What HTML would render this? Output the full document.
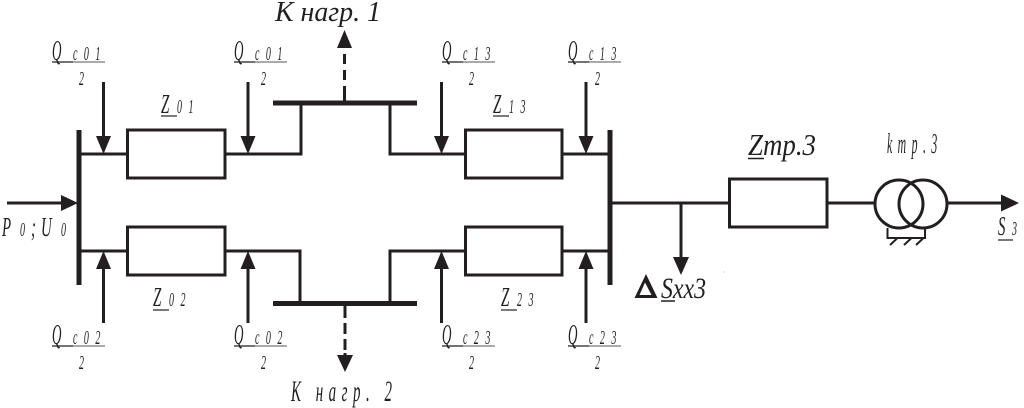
<!DOCTYPE html>
<html><head><meta charset="utf-8">
<style>
html,body{margin:0;padding:0;background:#fff;width:1024px;height:408px;overflow:hidden}
svg{display:block}
text{font-family:"Liberation Serif","DejaVu Serif",serif;font-style:italic;fill:#231f20}
.q{font-size:29px}.s{font-size:20px;letter-spacing:4px}.n{font-size:20px}
.z{font-size:27px}
.l{stroke:#231f20;stroke-width:3;fill:none}
.b{stroke:#231f20;stroke-width:5;fill:none}
.u{stroke:#231f20;stroke-width:1.2}
.g{stroke:#777;stroke-width:1.2}
.h{fill:#231f20;stroke:none}
</style></head><body>
<svg width="1024" height="408" viewBox="0 0 1024 408" xmlns="http://www.w3.org/2000/svg">
<rect width="1024" height="408" fill="#fff"/>
<!-- buses -->
<path class="b" d="M79 130V285M610 130V285M273 103H417M273 303.500H417"/>
<!-- top branch -->
<path class="l" d="M80 154H127M225 154H301V103M390 103V154H465M562 154H610"/>
<rect class="l" x="127.500" y="130" width="97.500" height="48"/>
<rect class="l" x="465.500" y="130" width="96.500" height="48"/>
<!-- bottom branch -->
<path class="l" d="M80 251H127M225 251H300V303M390 303V251H465M562 251H610"/>
<rect class="l" x="127.500" y="227" width="97.500" height="48"/>
<rect class="l" x="465.500" y="227" width="96.500" height="48"/>
<!-- right side -->
<path class="l" d="M610 203H729M827 203H875"/>
<rect class="l" x="729.500" y="179" width="97.500" height="48"/>
<circle class="l" cx="899" cy="204" r="24"/>
<circle class="l" cx="923" cy="204" r="24"/>
<path class="l" d="M947 203H1005"/>
<path class="h" d="M1019 203L1001 194.500V211.500Z"/>
<path d="M887.500 228V238H925V228M890 245L897 238.500M904 245L911 238.500M916 245L923 238.500" fill="none" stroke="#231f20" stroke-width="2"/>
<!-- input arrow -->
<path class="l" d="M7 203H70"/>
<path class="h" d="M78 203L61 195V211Z"/>
<!-- Q arrows top -->
<path class="l" d="M103.500 82V140M248 82V140M441.500 82V140M586 82V140"/>
<path class="h" d="M103.500 154L96 136H111ZM248 154L240.500 136H255.500ZM441.500 154L434 136H449ZM586 154L578.500 136H593.500Z"/>
<!-- Q arrows bottom -->
<path class="l" d="M103.500 323V265M248 323V265M441.500 323V265M586 323V265"/>
<path class="h" d="M103.500 251L96 269H111ZM248 251L240.500 269H255.500ZM441.500 251L434 269H449ZM586 251L578.500 269H593.500Z"/>
<!-- dashed -->
<path class="l" d="M344.500 101V86M344.500 80V70M344.500 64V54"/>
<path class="h" d="M344.500 30L337 48H352Z"/>
<path class="l" d="M345 306V318M345 323V334M345 339V350M345 353V358"/>
<path class="h" d="M345 372L337 355H353Z"/>
<!-- xx arrow -->
<path class="l" d="M681 203V262"/>
<path class="h" d="M681 275L673 257H689Z"/>
<circle cx="724" cy="272" r=".5" fill="#888"/>

<!-- top Q labels -->
<text class="q" transform="translate(52 60) scale(.45 1)">Q</text><text class="s" transform="translate(73 60) scale(.5 1)">c 0 1</text>
<path class="u" d="M52 62H73"/><path class="g" d="M73 62H105"/><text class="n" transform="translate(79 85) scale(.5 1)">2</text>
<text class="q" transform="translate(234 60) scale(.45 1)">Q</text><text class="s" transform="translate(255 60) scale(.5 1)">c 0 1</text>
<path class="u" d="M234 62H255"/><path class="g" d="M255 62H287"/><text class="n" transform="translate(261 85) scale(.5 1)">2</text>
<text class="q" transform="translate(442 60) scale(.45 1)">Q</text><text class="s" transform="translate(463 60) scale(.5 1)">c 1 3</text>
<path class="u" d="M442 62H463"/><path class="g" d="M463 62H495"/><text class="n" transform="translate(469 85) scale(.5 1)">2</text>
<text class="q" transform="translate(568 60) scale(.45 1)">Q</text><text class="s" transform="translate(589 60) scale(.5 1)">c 1 3</text>
<path class="u" d="M568 62H589"/><path class="g" d="M589 62H621"/><text class="n" transform="translate(595 85) scale(.5 1)">2</text>
<!-- bottom Q labels -->
<text class="q" transform="translate(52 344) scale(.45 1)">Q</text><text class="s" transform="translate(73 344) scale(.5 1)">c 0 2</text>
<path class="u" d="M52 346H73"/><path class="g" d="M73 346H105"/><text class="n" transform="translate(79 369) scale(.5 1)">2</text>
<text class="q" transform="translate(234 344) scale(.45 1)">Q</text><text class="s" transform="translate(255 344) scale(.5 1)">c 0 2</text>
<path class="u" d="M234 346H255"/><path class="g" d="M255 346H287"/><text class="n" transform="translate(261 369) scale(.5 1)">2</text>
<text class="q" transform="translate(442 344) scale(.45 1)">Q</text><text class="s" transform="translate(463 344) scale(.5 1)">c 2 3</text>
<path class="u" d="M442 346H463"/><path class="g" d="M463 346H495"/><text class="n" transform="translate(469 369) scale(.5 1)">2</text>
<text class="q" transform="translate(568 344) scale(.45 1)">Q</text><text class="s" transform="translate(589 344) scale(.5 1)">c 2 3</text>
<path class="u" d="M568 346H589"/><path class="g" d="M589 346H621"/><text class="n" transform="translate(595 369) scale(.5 1)">2</text>
<!-- Z labels -->
<text class="z" transform="translate(161 113) scale(.55 1)">Z</text><text class="s" transform="translate(177 113) scale(.5 1)">0 1</text><path class="u" d="M161 116H177"/>
<text class="z" transform="translate(493 113) scale(.55 1)">Z</text><text class="s" transform="translate(509 113) scale(.5 1)">1 3</text><path class="u" d="M493 116H509"/>
<text class="z" transform="translate(153 306) scale(.55 1)">Z</text><text class="s" transform="translate(169 306) scale(.5 1)">0 2</text><path class="u" d="M153 310H169"/>
<text class="z" transform="translate(501 306) scale(.55 1)">Z</text><text class="s" transform="translate(517 306) scale(.5 1)">2 3</text><path class="u" d="M501 310H517"/>
<!-- load labels -->
<text x="275" y="21" font-size="29" textLength="106" lengthAdjust="spacingAndGlyphs">К нагр. 1</text>
<text transform="translate(291 401) scale(.5 1)" font-size="30" letter-spacing="11">К нагр. 2</text>
<!-- transformer labels -->
<text x="748" y="155" font-size="31" textLength="68" lengthAdjust="spacingAndGlyphs">Zтр.3</text>
<path stroke="#231f20" stroke-width="1.500" d="M748 158.500H764"/>
<text transform="translate(887 153) scale(.42 1)" font-size="28" letter-spacing="13">kтр.3</text>
<text class="z" transform="translate(998 235) scale(.55 1)">S</text><text class="n" transform="translate(1012 235) scale(.5 1)">3</text>
<path class="u" d="M998 240H1013"/>
<!-- input label -->
<text class="z" transform="translate(2 236) scale(.55 1)">P</text>
<text class="n" transform="translate(20 236) scale(.5 1)">0</text>
<text class="z" transform="translate(31 236) scale(.55 1)">;</text>
<text class="z" transform="translate(41 236) scale(.55 1)">U</text>
<text class="n" transform="translate(61 236) scale(.5 1)">0</text>
<!-- delta S -->
<path fill-rule="evenodd" d="M646 274L657.500 298H634.500ZM645 282.500L639.500 295H651.500Z" fill="#231f20"/>
<text x="661" y="298" font-size="30" textLength="45" lengthAdjust="spacingAndGlyphs">Sxx3</text>
<path stroke="#231f20" stroke-width="1.500" d="M661 301H675"/>
</svg>
</body></html>
